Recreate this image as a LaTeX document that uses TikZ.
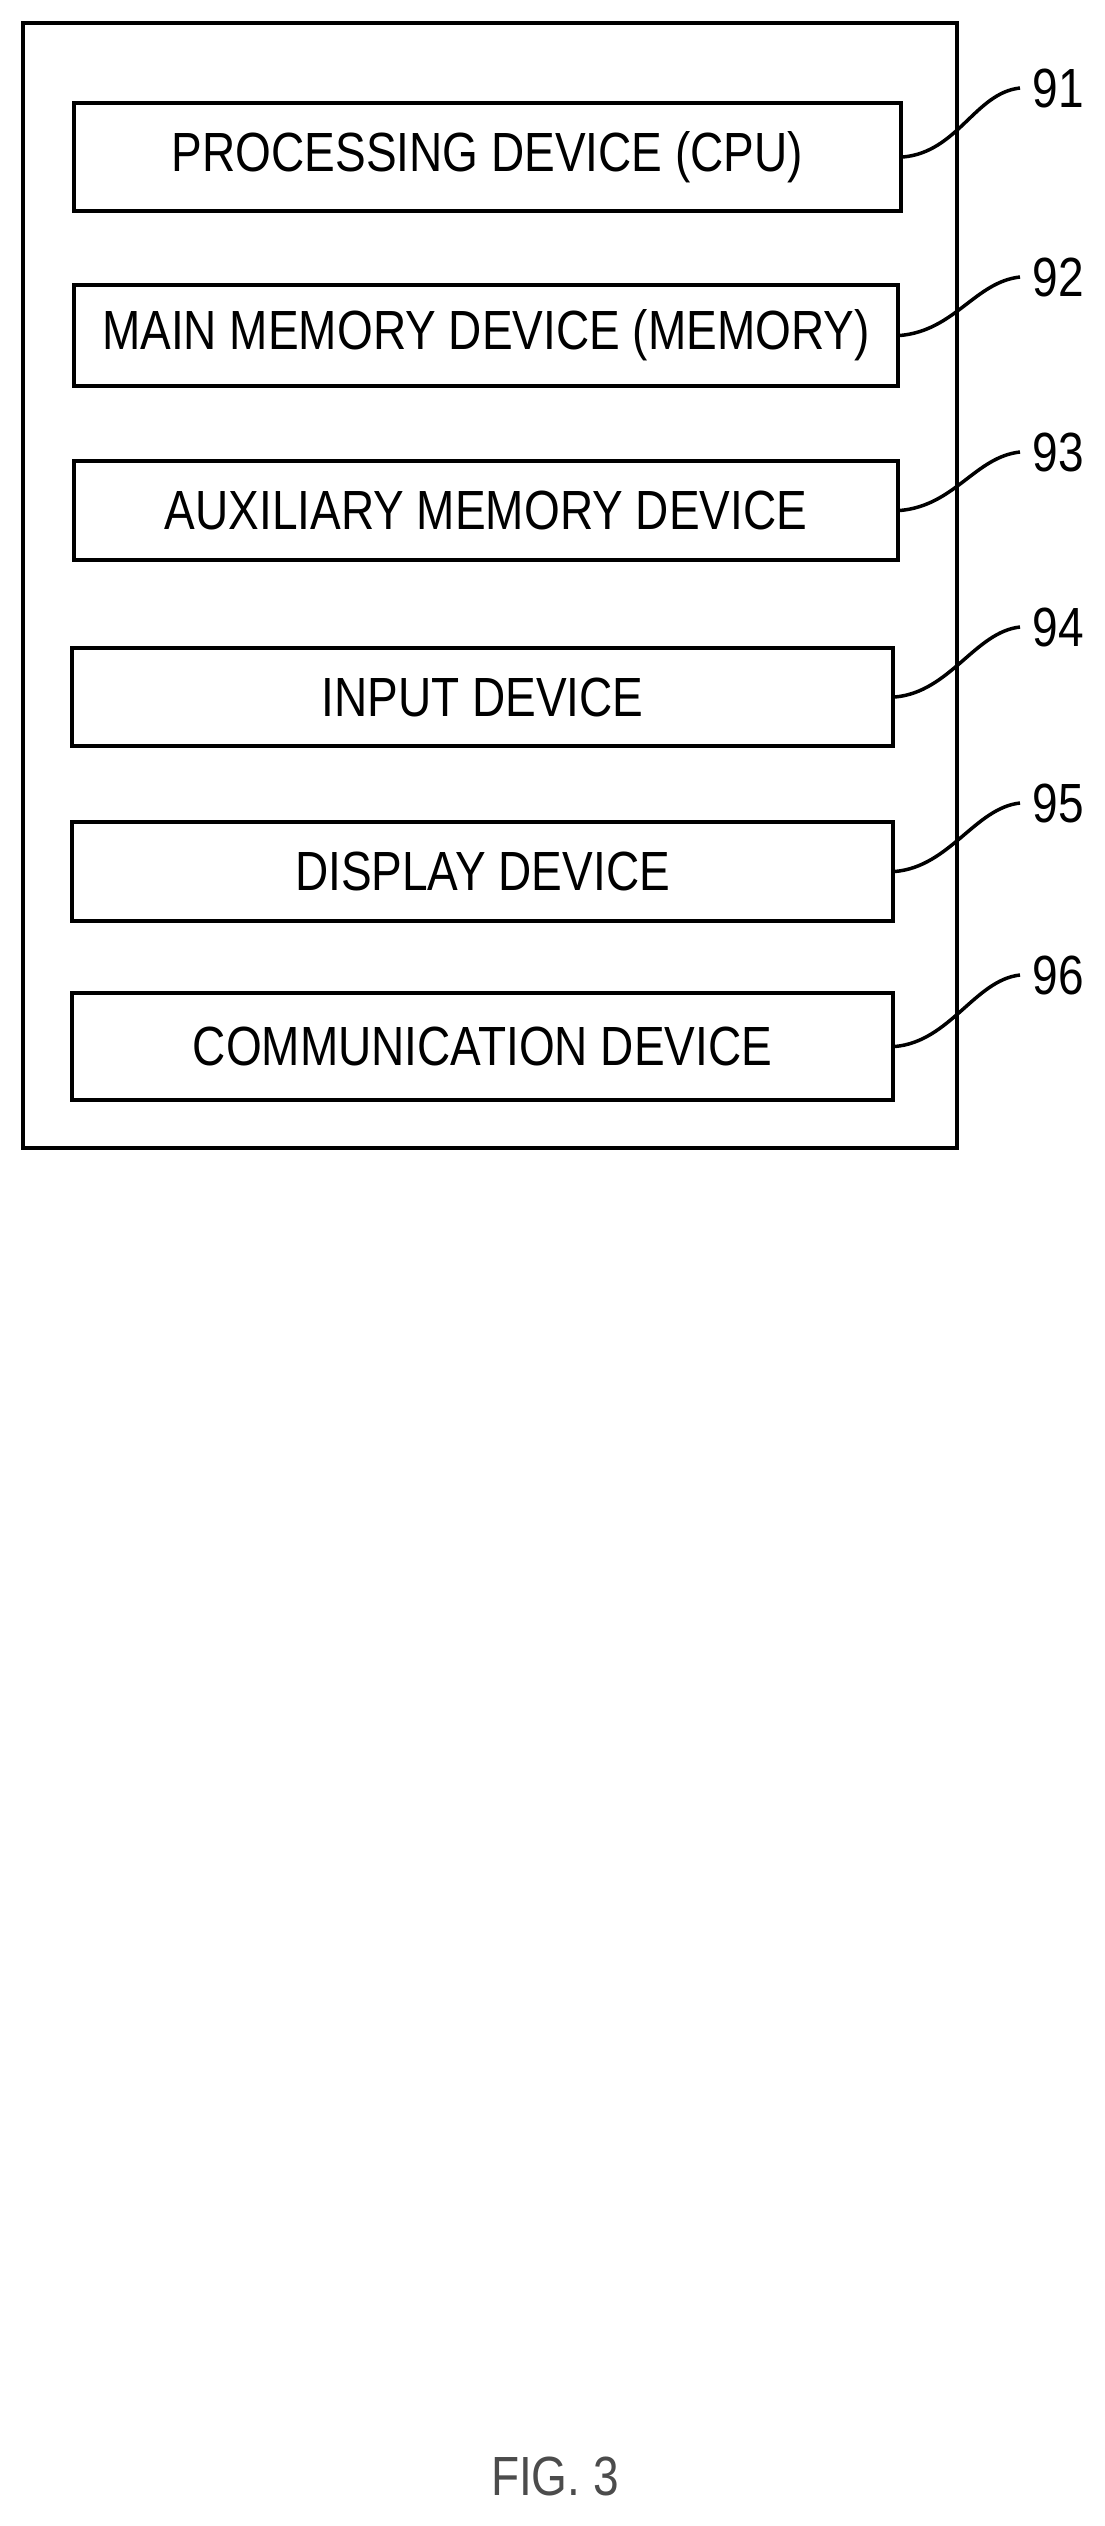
\documentclass[tikz,border=0pt]{standalone}
\usepackage{fontspec}
\setmainfont{Liberation Sans}
\usetikzlibrary{calc}
\newcommand{\tallt}[1]{\scalebox{1}[1.2]{#1}}
\begin{document}
\begin{tikzpicture}[x=1pt,y=-1pt,line width=4pt,
  box/.style={draw,anchor=north west,inner sep=0pt},
  txt/.style={font=\fontsize{46}{52}\selectfont},
  lbl/.style={font=\fontsize{46}{52}\selectfont,anchor=center},
  lead/.style={line width=3.5pt}]
\useasboundingbox (0,0) rectangle (1105,2526);
\node[draw,minimum width=934pt,minimum height=1125pt,anchor=north west,inner sep=0pt] (outer) at (21,21) {};
\foreach \n/\x/\y/\w/\h/\t/\ly in {
 1/72/101/827/108/PROCESSING DEVICE (CPU)/88,
 2/72/283/824/101/MAIN MEMORY DEVICE (MEMORY)/277,
 3/72/459/824/99/AUXILIARY MEMORY DEVICE/452,
 4/70/646/821/98/INPUT DEVICE/627,
 5/70/820/821/99/DISPLAY DEVICE/803,
 6/70/991/821/107/COMMUNICATION DEVICE/975}{
  \node[box,minimum width=\w pt,minimum height=\h pt] (b\n) at (\x,\y) {};
  \node[txt] (t\n) at (b\n.center) {\tallt{\t}};
  \node[lbl] (l\n) at (1058,\ly) {\tallt{9\n}};
  \coordinate (e\n) at (1020,\ly);
  \draw[lead] (b\n.east) .. controls ($(b\n.east)+(55,-5)$) and ($(e\n)+(-45,5)$) .. (e\n);
}
\node[font=\fontsize{46}{52}\selectfont,text=black!70] (fig) at (555,2476) {\tallt{FIG. 3}};
\end{tikzpicture}
\end{document}
